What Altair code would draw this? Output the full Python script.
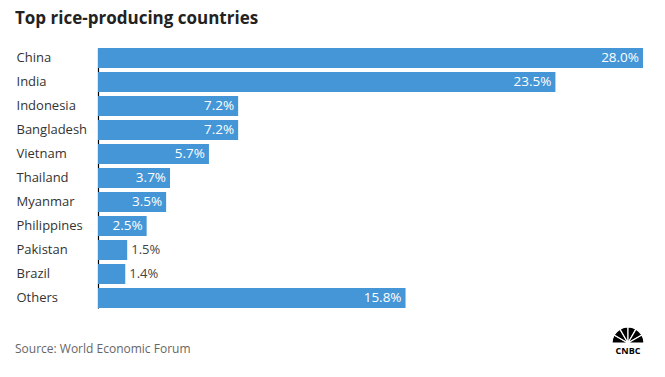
import altair as alt
import pandas as pd
import math

countries = ["China", "India", "Indonesia", "Bangladesh", "Vietnam", "Thailand",
             "Myanmar", "Philippines", "Pakistan", "Brazil", "Others"]
shares = [28.0, 23.5, 7.2, 7.2, 5.7, 3.7, 3.5, 2.5, 1.5, 1.4, 15.8]
labels = ["28.0%", "23.5%", "7.2%", "7.2%", "5.7%", "3.7%", "3.5%", "2.5%", "1.5%", "1.4%", "15.8%"]

df = pd.DataFrame({"country": countries, "share": shares, "label": labels})

FONT = "Open Sans"
BAR = "#4596d6"

y_enc = alt.Y("country:N", sort=countries, title=None,
              scale=alt.Scale(paddingInner=0.1667, paddingOuter=0),
              axis=alt.Axis(domainColor="#000000", domainWidth=1.2, ticks=False,
                            labelAlign="left", labelPadding=82, labelFontSize=13,
                            labelColor="#333333", labelFont=FONT, grid=False))
x_enc = alt.X("share:Q", title=None, axis=None,
              scale=alt.Scale(domain=[0, 28], nice=False, zero=True))

bars = alt.Chart(df).mark_bar(color=BAR).encode(x=x_enc, y=y_enc)

inside = alt.Chart(df).transform_filter("datum.share >= 2").mark_text(
    align="right", dx=-4, color="white", fontSize=13.5, font=FONT
).encode(x=x_enc, y=alt.Y("country:N", sort=countries), text="label:N")

outside = alt.Chart(df).transform_filter("datum.share < 2").mark_text(
    align="left", dx=4, color="#444444", fontSize=13, font=FONT
).encode(x=x_enc, y=alt.Y("country:N", sort=countries), text="label:N")

source = alt.Chart(pd.DataFrame({"t": ["Source: World Economic Forum"]})).mark_text(
    align="left", baseline="alphabetic", fontSize=12, color="#666666", font=FONT
).encode(x=alt.value(-83), y=alt.value(305), text="t:N")

feathers = pd.DataFrame({"f": list(range(6)), "v": [1] * 6})
peacock = alt.Chart(feathers).mark_arc(
    outerRadius=16, innerRadius=2, stroke="white", strokeWidth=1.2, color="black"
).encode(
    theta=alt.Theta("v:Q", stack=True,
                    scale=alt.Scale(range=[1.5 * math.pi, 2.5 * math.pi])),
    order=alt.Order("f:O"),
    x=alt.value(530), y=alt.value(295)
)
cnbc = alt.Chart(pd.DataFrame({"t": ["CNBC"]})).mark_text(
    align="center", baseline="alphabetic", fontSize=9, fontWeight="bold",
    color="black", font=FONT
).encode(x=alt.value(530), y=alt.value(306), text="t:N")

chart = alt.layer(bars, inside, outside, source, peacock, cnbc).properties(
    width=545, height=260,
    title=alt.TitleParams("Top rice-producing countries", anchor="start",
                          frame="group", dx=-83, fontSize=17, fontWeight="bold",
                          font=FONT, color="#222222", offset=20),
    autosize=alt.AutoSizeParams(type="none"),
    padding={"left": 98, "top": 48, "right": 22, "bottom": 69},
    background="white"
).configure_view(stroke=None, strokeWidth=0)

chart.save("out.html", embed_options={"renderer": "svg", "actions": False})
